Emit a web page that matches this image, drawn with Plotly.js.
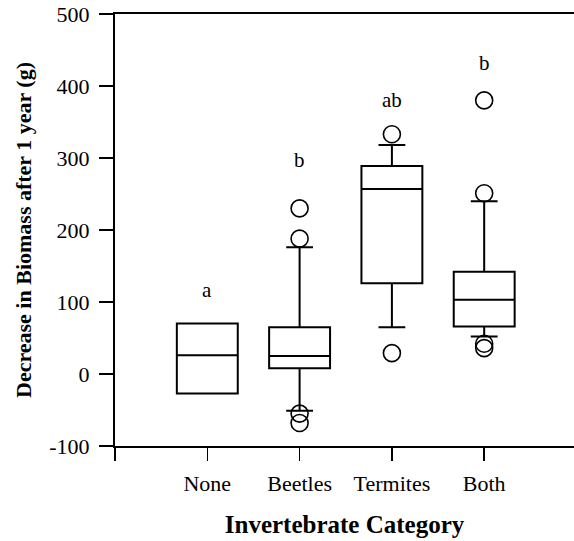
<!DOCTYPE html>
<html>
<head>
<meta charset="utf-8">
<script src="https://cdn.plot.ly/plotly-3.0.1.min.js"></script>
<style>html,body{margin:0;padding:0;background:#fff;}#chart{width:574px;height:541px;}</style>
</head>
<body>
<div id="chart"></div>
<script>
// Categories and their numeric positions on the x axis
const categories = ['None', 'Beetles', 'Termites', 'Both'];
const positions = [0, 1, 2, 3];

// Box statistics (g)
const q1Values = [-27, 8, 126, 66];
const medianValues = [26, 25, 257, 103];
const q3Values = [70, 65, 289, 142];
const lowerWhisker = [-27, -51, 65, 52];
const upperWhisker = [70, 176, 318, 240];

// Outliers
const outlierX = [1, 1, 1, 1, 2, 2, 3, 3, 3, 3];
const outlierY = [230, 188, -55, -68, 333, 29, 380, 251, 42, 36];

// Significance letters
const letterLabels = ['a', 'b', 'ab', 'b'];
const letterY = [117, 297, 381, 432];

// Axis ticks
const yTicks = [-100, 0, 100, 200, 300, 400, 500];
const yTickText = ['-100', '0', '100', '200', '300', '400', '500'];
const xTickVals = [-1, 0, 1, 2, 3, 4];
const xTickText = [''].concat(categories, ['']);

const font = 'Liberation Serif, Times New Roman, serif';

const traces = [
  {
    type: 'box',
    x: positions,
    q1: q1Values,
    median: medianValues,
    q3: q3Values,
    lowerfence: lowerWhisker,
    upperfence: upperWhisker,
    width: 0.66,
    whiskerwidth: 0.44,
    fillcolor: 'rgba(0,0,0,0)',
    line: {color: '#000', width: 2},
    boxpoints: false,
    hoverinfo: 'skip',
    showlegend: false
  },
  {
    type: 'scatter',
    mode: 'markers',
    x: outlierX,
    y: outlierY,
    marker: {symbol: 'circle-open', size: 17, color: '#000', line: {width: 1.6, color: '#000'}},
    hoverinfo: 'skip',
    showlegend: false
  }
];

const annotations = letterLabels.map((t, i) => ({
  x: positions[i], y: letterY[i], xref: 'x', yref: 'y',
  text: t, showarrow: false, xanchor: 'center', yanchor: 'middle',
  font: {family: font, size: 21, color: '#000'}
}));

const layout = {
  width: 574, height: 541,
  margin: {l: 115, r: 0, t: 14, b: 95, pad: 0},
  paper_bgcolor: '#fff', plot_bgcolor: '#fff',
  showlegend: false,
  font: {family: font, color: '#000'},
  xaxis: {
    type: 'linear',
    range: [-1, 3.973],
    tickmode: 'array', tickvals: xTickVals, ticktext: xTickText,
    ticks: 'outside', ticklen: 13, tickwidth: 1.5, tickcolor: '#000',
    ticklabelstandoff: 4,
    showline: true, linecolor: '#000', linewidth: 2, mirror: true,
    showgrid: false, zeroline: false,
    tickfont: {family: font, size: 22, color: '#000'},
    title: {text: '<b>Invertebrate Category</b>', font: {family: font, size: 25, color: '#000'}, standoff: 20}
  },
  yaxis: {
    range: [-100, 500],
    tickmode: 'array', tickvals: yTicks, ticktext: yTickText,
    ticks: 'outside', ticklen: 14, tickwidth: 1.5, tickcolor: '#000',
    ticklabelstandoff: 5,
    showline: true, linecolor: '#000', linewidth: 2,
    showgrid: false, zeroline: false,
    tickfont: {family: font, size: 22, color: '#000'},
    title: {text: '<b>Decrease in Biomass after 1 year (g)</b>', font: {family: font, size: 22, color: '#000'}, standoff: 12}
  },
  annotations: annotations
};

Plotly.newPlot('chart', traces, layout, {staticPlot: true, displayModeBar: false});
</script>
</body>
</html>
